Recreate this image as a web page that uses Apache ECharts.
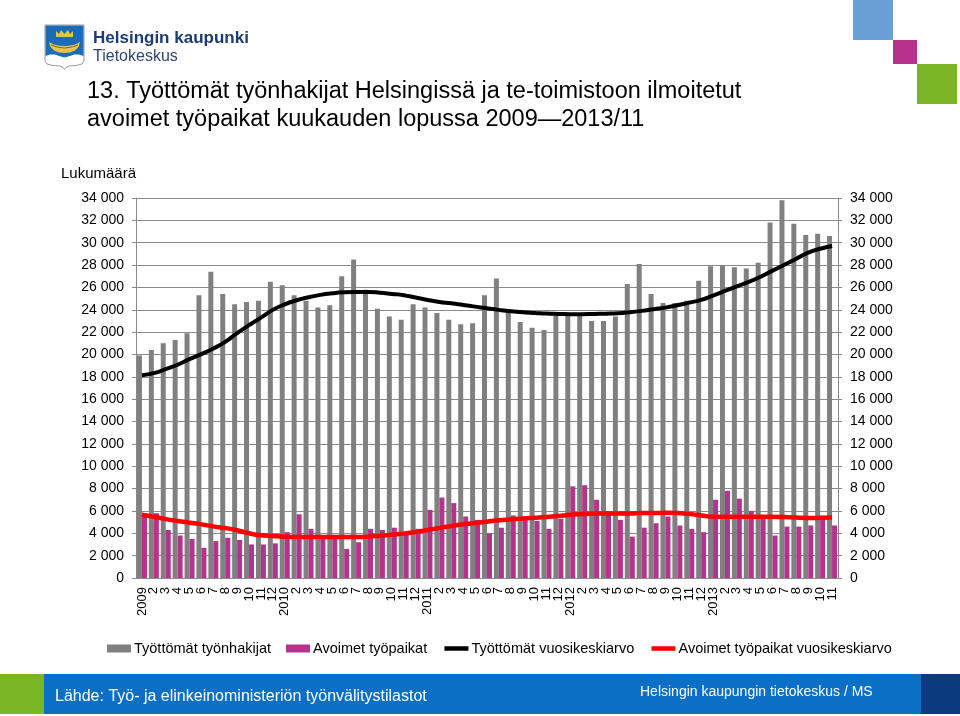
<!DOCTYPE html>
<html>
<head>
<meta charset="utf-8">
<script src="https://cdn.jsdelivr.net/npm/echarts@6/dist/echarts.min.js"></script>
<style>
html,body{margin:0;padding:0;background:#fff;}
#chart{width:960px;height:716px;}
</style>
</head>
<body>
<div id="chart"></div>
<script>
// ---- Data ----
const years = ['2009', '2010', '2011', '2012', '2013'];
const monthsPerYear = [12, 12, 12, 12, 11];
const categories = [];
years.forEach(function (y, k) {
  for (let m = 1; m <= monthsPerYear[k]; m++) categories.push(m === 1 ? y : String(m));
});

const tyottomat = [
  19900, 20400, 21000, 21300, 21900, 25300, 27400, 25400, 24500, 24700, 24800, 26500,
  26200, 25300, 24800, 24200, 24400, 27000, 28500, 25800, 24100, 23400, 23100, 24500,
  24200, 23700, 23100, 22700, 22800, 25300, 26800, 23800, 22900, 22400, 22200, 23500,
  23500, 23500, 23000, 23000, 23400, 26300, 28100, 25400, 24600, 24600, 24800, 26600,
  27900, 28000, 27800, 27700, 28200, 31800, 33800, 31700, 30700, 30800, 30600
];
const avoimet = [
  5800, 5800, 4300, 3800, 3500, 2700, 3300, 3600, 3400, 3000, 3000, 3100,
  4100, 5700, 4400, 3700, 3700, 2600, 3200, 4400, 4300, 4500, 4000, 4400,
  6100, 7200, 6700, 5500, 5200, 4000, 4500, 5600, 5200, 5100, 4400, 5300,
  8200, 8300, 7000, 6000, 5200, 3700, 4500, 4900, 5500, 4700, 4400, 4100,
  7000, 7800, 7100, 6000, 5400, 3800, 4600, 4600, 4700, 5300, 4700
];
const tyottomatKa = [
  18150, 18330, 18690, 19080, 19580, 20030, 20530, 21130, 21900, 22620, 23300, 23990,
  24490, 24850, 25120, 25330, 25470, 25560, 25590, 25590, 25530, 25420, 25300, 25090,
  24880, 24700, 24580, 24430, 24280, 24130, 23990, 23870, 23780, 23720, 23660, 23630,
  23600, 23600, 23630, 23650, 23690, 23780, 23900, 24050, 24190, 24400, 24640, 24880,
  25270, 25680, 26100, 26490, 26960, 27500, 28030, 28570, 29110, 29460, 29700
];
const avoimetKa = [
  5660, 5480, 5270, 5100, 4950, 4800, 4620, 4470, 4270, 4000, 3820, 3760,
  3700, 3670, 3670, 3670, 3670, 3670, 3670, 3700, 3790, 3880, 3970, 4120,
  4300, 4470, 4650, 4800, 4920, 5040, 5160, 5240, 5330, 5390, 5450, 5540,
  5660, 5720, 5780, 5780, 5780, 5780, 5810, 5810, 5840, 5810, 5720, 5600,
  5480, 5480, 5480, 5480, 5480, 5480, 5450, 5420, 5360, 5390, 5420
];
const seriesNames = ['Työttömät työnhakijat', 'Avoimet työpaikat', 'Työttömät vuosikeskiarvo', 'Avoimet työpaikat vuosikeskiarvo'];
const titleText = '13. Työttömät työnhakijat Helsingissä ja te-toimistoon ilmoitetut\navoimet työpaikat kuukauden lopussa 2009—2013/11';
const yName = 'Lukumäärä';
const sourceText = 'Lähde: Työ- ja elinkeinoministeriön työnvälitystilastot';
const creditText = 'Helsingin kaupungin tietokeskus / MS';

const FONT = 'Liberation Sans, Arial, sans-serif';
const fmt = function (v) { return String(v).replace(/\B(?=(\d{3})+(?!\d))/g, ' '); };

const chart = echarts.init(document.getElementById('chart'), null, { renderer: 'canvas' });

const yAxisCommon = {
  type: 'value', min: 0, max: 34000, interval: 2000,
  axisLine: { show: true, lineStyle: { color: '#8a8a8a', width: 1 } },
  axisTick: { show: true, length: 4, lineStyle: { color: '#8a8a8a' } },
  axisLabel: { formatter: fmt, fontFamily: FONT, fontSize: 14, color: '#000', margin: 12 },
};

chart.setOption({
  animation: false,
  textStyle: { fontFamily: FONT },
  title: {
    text: titleText,
    left: 87, top: 78, padding: 0,
    textStyle: { fontFamily: FONT, fontSize: 23.5, fontWeight: 'normal', color: '#000', lineHeight: 27.5 }
  },
  legend: {
    data: [
      { name: seriesNames[0], icon: 'rect' },
      { name: seriesNames[1], icon: 'rect' },
      { name: seriesNames[2], itemStyle: { opacity: 0 }, lineStyle: { width: 4.5 } },
      { name: seriesNames[3], itemStyle: { opacity: 0 }, lineStyle: { width: 4.5 } }
    ],
    left: 107, top: 641, padding: 0,
    itemWidth: 24, itemHeight: 8, itemGap: 15,
    textStyle: { fontFamily: FONT, fontSize: 14.5, color: '#000', padding: [0, 0, 0, -2] }
  },
  grid: { left: 136, right: 122, top: 198, bottom: 138, containLabel: false },
  xAxis: {
    type: 'category', data: categories,
    axisLine: { show: true, lineStyle: { color: '#8a8a8a' } },
    axisTick: { show: false },
    axisLabel: { interval: 0, rotate: 90, fontFamily: FONT, fontSize: 13, color: '#000', margin: 9 }
  },
  yAxis: [
    Object.assign({}, yAxisCommon, {
      position: 'left',
      splitLine: { show: true, lineStyle: { color: '#8a8a8a', width: 1 } }
    }),
    Object.assign({}, yAxisCommon, {
      position: 'right',
      splitLine: { show: false }
    })
  ],
  series: [
    {
      name: seriesNames[0], type: 'bar', data: tyottomat,
      itemStyle: { color: '#808080' }, barGap: '0%', barCategoryGap: '16%', z: 2
    },
    {
      name: seriesNames[1], type: 'bar', data: avoimet,
      itemStyle: { color: '#b5338c' }, z: 2
    },
    {
      name: seriesNames[2], type: 'line', data: tyottomatKa, smooth: true, symbol: 'none',
      lineStyle: { color: '#000', width: 4 }, itemStyle: { color: '#000' }, z: 5
    },
    {
      name: seriesNames[3], type: 'line', data: avoimetKa, smooth: true, symbol: 'none',
      lineStyle: { color: '#ff0000', width: 4.5 }, itemStyle: { color: '#ff0000' }, z: 6
    }
  ],
  graphic: [
    // decorative squares top right
    { type: 'rect', shape: { x: 853, y: 0, width: 40, height: 40 }, style: { fill: '#6a9fd6' } },
    { type: 'rect', shape: { x: 893, y: 40, width: 24, height: 24 }, style: { fill: '#b8318a' } },
    { type: 'rect', shape: { x: 917, y: 64, width: 40, height: 40 }, style: { fill: '#7ab526' } },
    // coat of arms
    { type: 'polygon', shape: { points: [[45,25],[84,25],[84,61],[82,64],[76,65.5],[69,66],[66,67.5],[64.5,69.5],[63,67.5],[60,66],[53,65.5],[47,64],[45,61]] },
      style: { fill: '#ffffff', stroke: '#9a9a9a', lineWidth: 1 } },
    { type: 'polygon', shape: { points: [[45.5,25.5],[83.5,25.5],[83.5,56],[79,54.5],[74,54.5],[70,56],[64.5,57.5],[59,56],[55,54.5],[50,54.5],[45.5,56]] },
      style: { fill: '#1b6cb8' } },
    { type: 'polygon', shape: { points: [[56,37],[56,31],[59,34],[61,30],[64.5,34],[68,30],[70,34],[73,31],[73,37]] },
      style: { fill: '#e8c24a' } },
    { type: 'polygon', shape: { points: [[49,42],[54,44.5],[60,45.8],[64.5,46],[69,45.8],[75,44.5],[80,42],[78.5,47],[75,50.5],[70,52.5],[64.5,53],[59,52.5],[54,50.5],[50.5,47]] },
      style: { fill: '#e8c24a' } },
    { type: 'polyline', shape: { points: [[51,45],[57,47],[64.5,48],[72,47],[78,45]] },
      style: { stroke: '#8a6a10', lineWidth: 1, fill: null } },
    // logo text
    { type: 'text', left: 93, top: 30, style: { text: 'Helsingin kaupunki', font: 'bold 17px ' + FONT, fill: '#1d3c72' } },
    { type: 'text', left: 93, top: 49, style: { text: 'Tietokeskus', font: '16px ' + FONT, fill: '#2f4670' } },
    // y axis name
    { type: 'text', left: 61, top: 166, style: { text: yName, font: '15px ' + FONT, fill: '#000' } },
    // footer
    { type: 'rect', shape: { x: 0, y: 674, width: 44, height: 40 }, style: { fill: '#7ab526' } },
    { type: 'rect', shape: { x: 44, y: 674, width: 877, height: 40 }, style: { fill: '#0b6fc5' } },
    { type: 'rect', shape: { x: 921, y: 674, width: 39, height: 40 }, style: { fill: '#0c3a80' } },
    { type: 'text', left: 55, top: 689, style: { text: sourceText, font: '16px ' + FONT, fill: '#ffffff' } },
    { type: 'text', left: 640, top: 685, style: { text: creditText, font: '14px ' + FONT, fill: '#ffffff' } }
  ]
});
</script>
</body>
</html>
